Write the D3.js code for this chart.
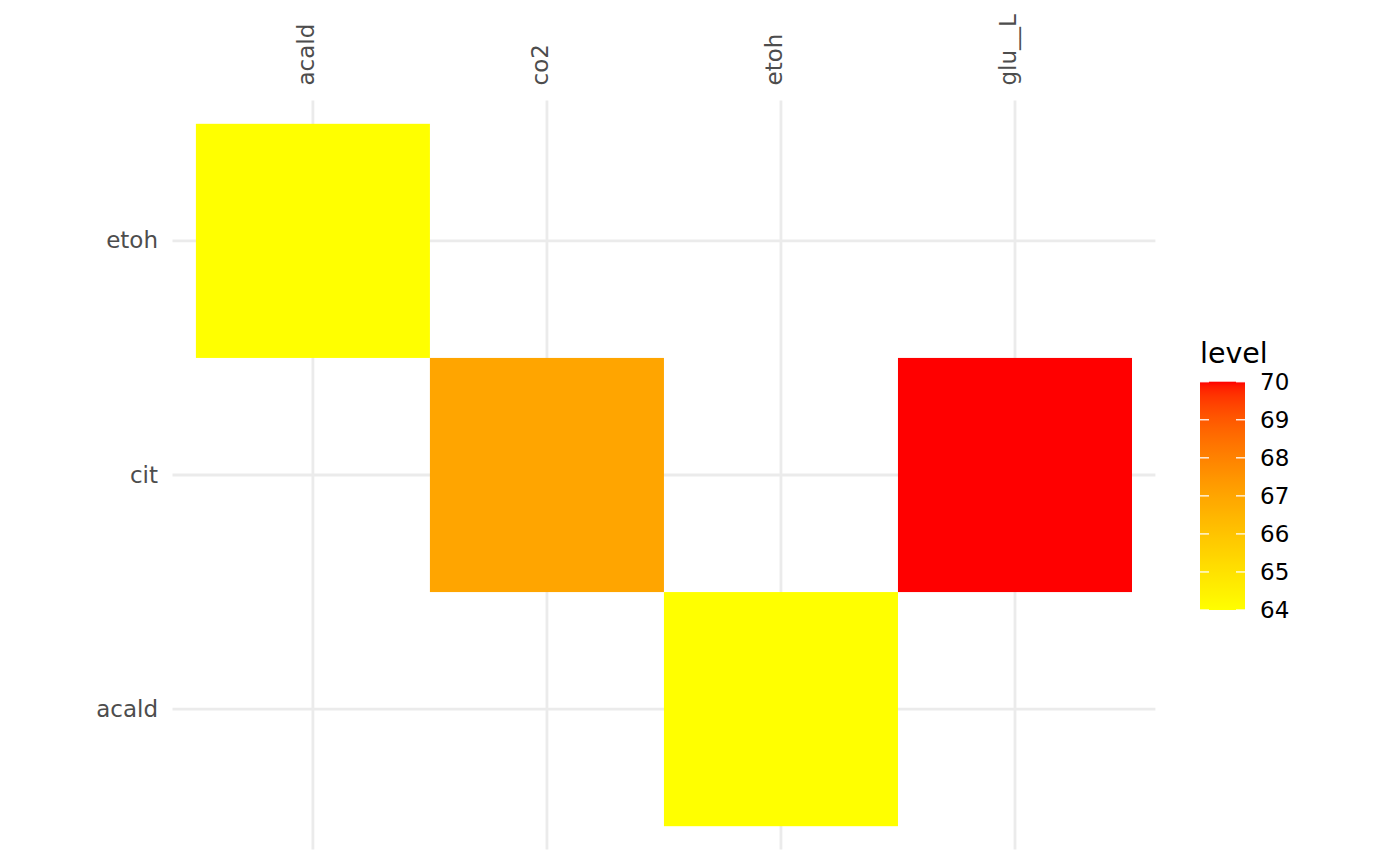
<!DOCTYPE html>
<html>
<head>
<meta charset="utf-8">
<script src="https://cdn.jsdelivr.net/npm/d3@7"></script>
<style>
  html, body { margin: 0; padding: 0; background: #ffffff; }
  text { font-family: "DejaVu Sans", sans-serif; }
</style>
</head>
<body>
<svg id="chart" width="1400" height="865"></svg>
<script>
// ---- data ----
const xCategories = ["acald", "co2", "etoh", "glu__L"];
const yCategories = ["acald", "cit", "etoh"];
const tileX = ["acald", "co2", "etoh", "glu__L"];
const tileY = ["etoh", "cit", "acald", "cit"];
const tileLevel = [64, 67, 64, 70];
const legendTicks = [64, 65, 66, 67, 68, 69, 70];
const legendTitle = "level";

const tiles = tileX.map((x, i) => ({ x, y: tileY[i], level: tileLevel[i] }));

// ---- layout ----
const W = 1400, H = 865;
const panel = { left: 172.5, right: 1155.4, top: 100.4, bottom: 849.6 };

const svg = d3.select("#chart");
svg.append("rect").attr("width", W).attr("height", H).attr("fill", "#ffffff");

const x = d3.scaleBand()
  .domain(xCategories)
  .range([panel.left, panel.right])
  .paddingInner(0).paddingOuter(0.1);

const y = d3.scaleBand()
  .domain(yCategories.slice().reverse())
  .range([panel.top, panel.bottom])
  .paddingInner(0).paddingOuter(0.1);

const lo = 64, mid = 67, hi = 70;
const color = d3.scaleLinear()
  .domain([lo, mid, hi])
  .range(["#FFFF00", "#FFA500", "#FF0000"])
  .interpolate(d3.interpolateLab)
  .clamp(true);

// grid lines
const grid = svg.append("g");
xCategories.forEach(c => {
  const cx = x(c) + x.bandwidth() / 2;
  grid.append("line")
    .attr("x1", cx).attr("x2", cx)
    .attr("y1", panel.top).attr("y2", panel.bottom)
    .attr("stroke", "#EBEBEB").attr("stroke-width", 2.8);
});
yCategories.forEach(c => {
  const cy = y(c) + y.bandwidth() / 2;
  grid.append("line")
    .attr("x1", panel.left).attr("x2", panel.right)
    .attr("y1", cy).attr("y2", cy)
    .attr("stroke", "#EBEBEB").attr("stroke-width", 2.8);
});

// tiles
svg.append("g").selectAll("rect")
  .data(tiles)
  .join("rect")
  .attr("x", d => x(d.x))
  .attr("y", d => y(d.y))
  .attr("width", x.bandwidth())
  .attr("height", y.bandwidth())
  .attr("fill", d => color(d.level));

// x axis labels (top, rotated)
const xAxis = svg.append("g");
xCategories.forEach(c => {
  const cx = x(c) + x.bandwidth() / 2;
  xAxis.append("text")
    .attr("transform", `translate(${cx + 1},85.5) rotate(-90)`)
    .attr("text-anchor", "start")
    .attr("font-size", "23px")
    .attr("fill", "#4D4D4D")
    .text(c);
});

// y axis labels
const yAxis = svg.append("g");
yCategories.forEach(c => {
  const cy = y(c) + y.bandwidth() / 2;
  yAxis.append("text")
    .attr("x", 158)
    .attr("y", cy)
    .attr("dy", "0.33em")
    .attr("text-anchor", "end")
    .attr("font-size", "23px")
    .attr("fill", "#4D4D4D")
    .text(c);
});

// legend
const leg = { x: 1200, w: 45, top: 381.7, bottom: 610 };
const ly = d3.scaleLinear().domain([lo, hi]).range([leg.bottom, leg.top]);

const defs = svg.append("defs");
const grad = defs.append("linearGradient")
  .attr("id", "cbar")
  .attr("x1", 0).attr("y1", 1).attr("x2", 0).attr("y2", 0);
d3.range(0, 1.0001, 0.02).forEach(t => {
  grad.append("stop")
    .attr("offset", t)
    .attr("stop-color", color(lo + t * (hi - lo)));
});

svg.append("text")
  .attr("x", 1200)
  .attr("y", 363)
  .attr("font-size", "28.5px")
  .attr("fill", "#000000")
  .text(legendTitle);

svg.append("rect")
  .attr("x", leg.x).attr("y", leg.top)
  .attr("width", leg.w).attr("height", leg.bottom - leg.top)
  .attr("fill", "url(#cbar)");

const tickLen = 9;
legendTicks.forEach(v => {
  const ty = ly(v);
  svg.append("line")
    .attr("x1", leg.x).attr("x2", leg.x + tickLen)
    .attr("y1", ty).attr("y2", ty)
    .attr("stroke", "#ffffff").attr("stroke-width", 1.4).attr("stroke-opacity", 0.9);
  svg.append("line")
    .attr("x1", leg.x + leg.w - tickLen).attr("x2", leg.x + leg.w)
    .attr("y1", ty).attr("y2", ty)
    .attr("stroke", "#ffffff").attr("stroke-width", 1.4).attr("stroke-opacity", 0.9);
  svg.append("text")
    .attr("x", 1260)
    .attr("y", ty)
    .attr("dy", "0.36em")
    .attr("font-size", "23px")
    .attr("fill", "#000000")
    .text(v);
});
</script>
</body>
</html>
